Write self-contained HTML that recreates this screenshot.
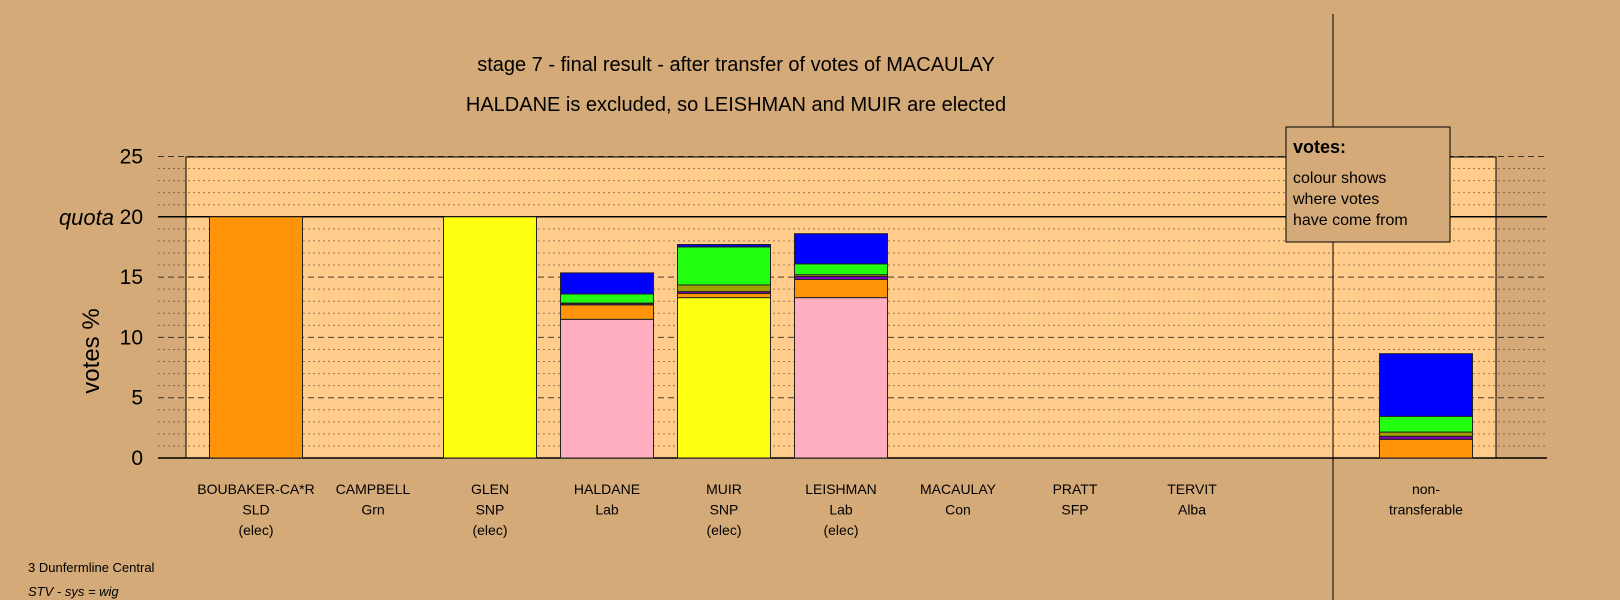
<!DOCTYPE html>
<html><head><meta charset="utf-8"><style>
body{margin:0;background:#d4aa78;}
svg{display:block;font-family:"Liberation Sans",sans-serif;}
</style></head><body>
<svg id="chart" width="1620" height="600" viewBox="0 0 1620 600" xmlns="http://www.w3.org/2000/svg">
<rect width="1620" height="600" fill="#d4aa78"/>
<rect x="186" y="157" width="1310" height="301" fill="#ffcc8c" stroke="#000" stroke-width="1"/>
<g id="grid"></g>
<line x1="1333" y1="14" x2="1333" y2="600" stroke="#000" stroke-width="1"/>
<g id="bars"></g>
<g id="xlabels" font-size="14" text-anchor="middle" fill="#000"></g>
<g id="ylabels" font-size="21" text-anchor="end" fill="#000"></g>
<text x="114" y="225" font-size="22" font-style="italic" text-anchor="end">quota</text>
<text transform="translate(99,351) rotate(-90)" font-size="24" text-anchor="middle">votes %</text>
<text x="736" y="71" font-size="20" text-anchor="middle">stage 7 - final result - after transfer of votes of MACAULAY</text>
<text x="736" y="111" font-size="20" text-anchor="middle">HALDANE is excluded, so LEISHMAN and MUIR are elected</text>
<g>
<rect x="1286" y="127" width="164" height="115" fill="#d4aa78" stroke="#000" stroke-width="1"/>
<text x="1293" y="153" font-size="18" font-weight="bold">votes:</text>
<text x="1293" y="183" font-size="16">colour shows</text>
<text x="1293" y="204" font-size="16">where votes</text>
<text x="1293" y="225" font-size="16">have come from</text>
</g>
<text x="28" y="572" font-size="13">3 Dunfermline Central</text>
<text x="28" y="596" font-size="13" font-style="italic">STV - sys = wig</text>
</svg>
<script>
const candidates = ["BOUBAKER-CA*R","CAMPBELL","GLEN","HALDANE","MUIR","LEISHMAN","MACAULAY","PRATT","TERVIT","non-"];
const parties = ["SLD","Grn","SNP","Lab","SNP","Lab","Con","SFP","Alba","transferable"];
const notes = ["(elec)","","(elec)","","(elec)","(elec)","","","",""];
const seriesNames = ["Lab","SNP","SLD","Alba","SFP","Grn","Con"];
const seriesColors = ["#ffaec0","#ffff10","#ff9408","#8000c0","#a0a000","#22ff10","#0000ff"];
const sLab  = [0,0,0,11.5,0,13.3,0,0,0,0];
const sSNP  = [0,0,20,0,13.3,0,0,0,0,0];
const sSLD  = [20,0,0,1.2,0.35,1.5,0,0,0,1.55];
const sAlba = [0,0,0,0.1,0.15,0.25,0,0,0,0.25];
const sSFP  = [0,0,0,0.05,0.55,0.15,0,0,0,0.35];
const sGrn  = [0,0,0,0.75,3.15,0.9,0,0,0,1.3];
const sCon  = [0,0,0,1.75,0.2,2.5,0,0,0,5.2];
const yTicks = [0,5,10,15,20,25];
const series = [sLab,sSNP,sSLD,sAlba,sSFP,sGrn,sCon];
const NS="http://www.w3.org/2000/svg";
const y0=458, unit=(458-156.5)/25;
function yS(v){return y0-v*unit;}
function xC(i){return i<9 ? 256+i*117 : 1426;}
const grid=document.getElementById('grid');
for(let v=0;v<=25;v++){
  const l=document.createElementNS(NS,'line');
  
  
  l.setAttribute('x1',158);l.setAttribute('x2',1547);
  l.setAttribute('y1',yS(v));l.setAttribute('y2',yS(v));
  l.setAttribute('stroke','#000');
  if(v===0||v===20){l.setAttribute('stroke-width','1.5');}
  else if(v%5===0){l.setAttribute('stroke-dasharray','6,4');l.setAttribute('stroke-opacity','0.7');}
  else {l.setAttribute('stroke-dasharray','2,3');l.setAttribute('stroke-opacity','0.4');}
  grid.appendChild(l);
}
const bars=document.getElementById('bars');
candidates.forEach((c,i)=>{
  let acc=0;
  series.forEach((s,k)=>{
    const v=s[i]; if(!v) return;
    const r=document.createElementNS(NS,'rect');
    
    
    r.setAttribute('x',xC(i)-46.5);r.setAttribute('width',93);
    r.setAttribute('y',yS(acc+v));r.setAttribute('height',v*unit);
    r.setAttribute('fill',seriesColors[k]);r.setAttribute('stroke','#222');r.setAttribute('stroke-width','1');
    bars.appendChild(r);acc+=v;
  });
});
const xl=document.getElementById('xlabels');
candidates.forEach((c,i)=>{
  [c,parties[i],notes[i]].forEach((t,j)=>{
    if(!t) return;
    const e=document.createElementNS(NS,'text');
    
    
    e.setAttribute('x',xC(i));e.setAttribute('y',494+j*20.5);
    e.textContent=t;xl.appendChild(e);
  });
});
const yl=document.getElementById('ylabels');
yTicks.forEach(v=>{
  const e=document.createElementNS(NS,'text');
  
  
  e.setAttribute('x',143);e.setAttribute('y',yS(v)+7);
  e.textContent=v;yl.appendChild(e);
});
</script>
</body></html>
